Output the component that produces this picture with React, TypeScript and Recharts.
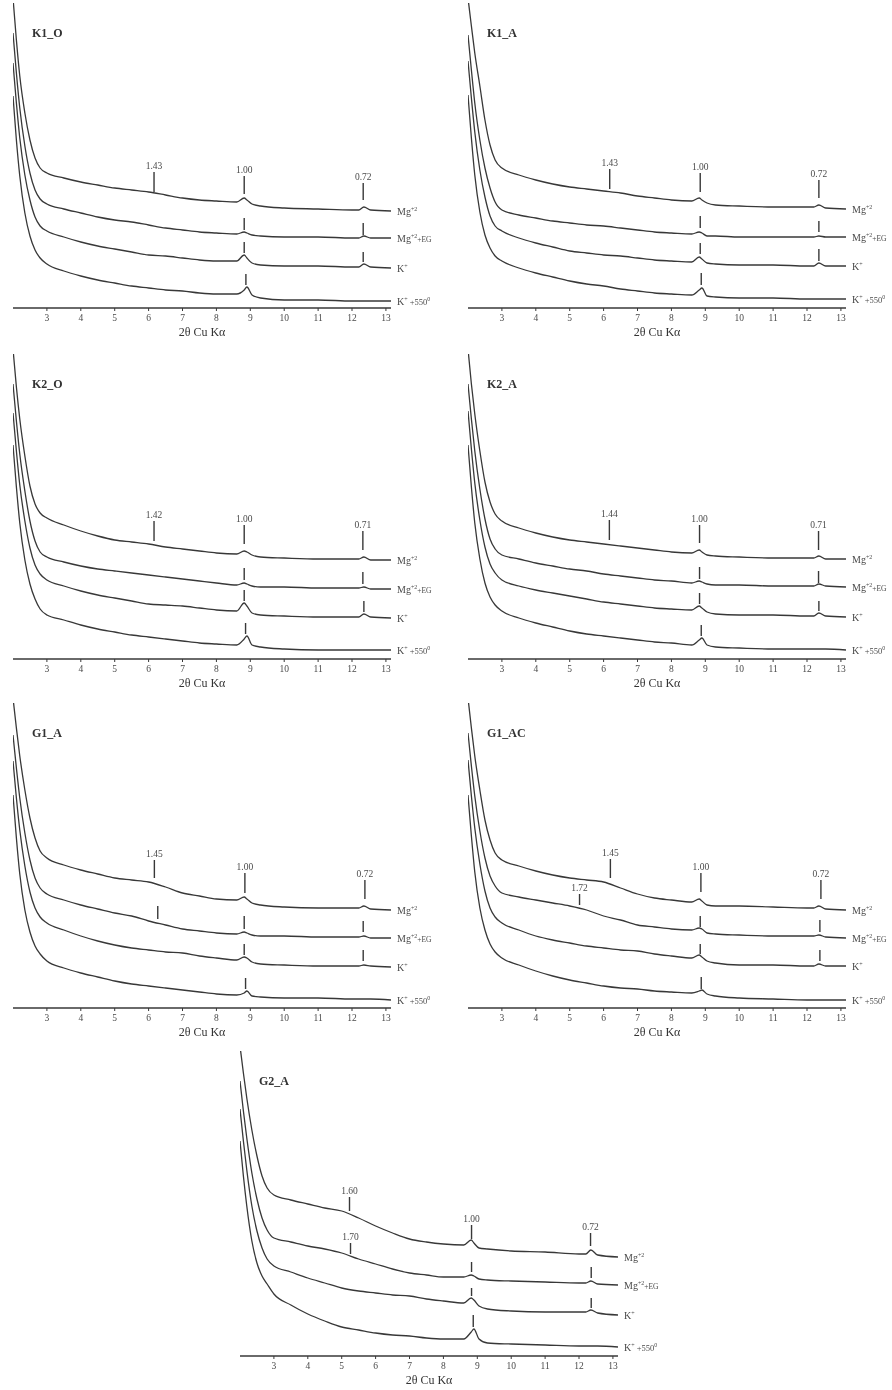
import { LineChart, Line, XAxis, YAxis, ReferenceLine } from 'recharts';

// 2θ sample positions shared by every pattern
const X = [2.0, 2.1, 2.2, 2.35, 2.5, 2.65, 2.8, 3.0, 3.5, 4, 4.5, 5, 5.5, 6, 6.5, 7, 7.5, 8, 8.6, 8.82, 8.9, 9.05, 9.3, 10, 11, 12, 12.2, 12.35, 12.55, 13.15];
const TICKS = [3, 4, 5, 6, 7, 8, 9, 10, 11, 12, 13];

// intensities (arbitrary units, stacked offsets included)
const k1oMg = [310, 268, 232, 195, 168, 150, 140, 135, 130, 126, 123, 120, 118, 116, 113, 110, 108, 107, 106, 110, 108, 104, 102, 100, 99, 98, 98, 101, 98, 97];
const k1oEg = [275, 235, 200, 162, 135, 118, 109, 104, 99, 95, 91, 88, 86, 83, 80, 78, 76, 75, 74, 76, 75, 73, 72, 71, 71, 70, 70, 72, 70, 70];
const k1oK = [245, 205, 170, 133, 108, 91, 82, 77, 71, 66, 62, 59, 56, 53, 52, 50, 48, 47, 47, 53, 50, 45, 43, 42, 42, 41, 41, 44, 41, 40];
const k1oK550 = [212, 168, 132, 95, 72, 58, 50, 44, 37, 32, 28, 25, 22, 20, 18, 17, 15, 14, 14, 18, 21, 13, 10, 8, 8, 7, 7, 7, 7, 7];

const k1aMg = [310, 282, 255, 222, 188, 163, 148, 140, 133, 128, 124, 121, 119, 117, 115, 112, 110, 108, 107, 110, 108, 105, 103, 102, 101, 101, 101, 103, 100, 99];
const k1aEg = [273, 238, 205, 168, 140, 120, 106, 98, 93, 90, 87, 85, 83, 82, 80, 78, 76, 75, 74, 76, 75, 72, 72, 71, 71, 71, 71, 72, 71, 71];
const k1aK = [247, 210, 176, 138, 111, 92, 82, 77, 70, 65, 61, 57, 55, 53, 52, 50, 48, 47, 46, 51, 49, 45, 44, 43, 43, 42, 42, 45, 42, 42];
const k1aK550 = [213, 170, 133, 96, 73, 60, 52, 47, 40, 35, 31, 27, 24, 22, 19, 17, 15, 14, 13, 18, 20, 12, 11, 10, 10, 9, 9, 9, 9, 9];

const k2oMg = [310, 272, 240, 203, 173, 155, 146, 141, 134, 128, 123, 119, 117, 115, 112, 110, 108, 106, 105, 108, 107, 104, 102, 101, 100, 100, 100, 102, 99, 99];
const k2oEg = [275, 238, 205, 168, 138, 118, 107, 102, 97, 93, 90, 88, 86, 84, 82, 80, 78, 76, 74, 76, 75, 73, 72, 72, 71, 71, 71, 72, 70, 70];
const k2oK = [246, 208, 174, 138, 111, 94, 85, 79, 73, 68, 64, 61, 58, 55, 54, 53, 51, 49, 48, 56, 53, 46, 44, 43, 42, 42, 42, 45, 42, 41];
const k2oK550 = [214, 172, 136, 99, 75, 60, 50, 44, 39, 34, 30, 27, 24, 22, 20, 18, 16, 15, 14, 20, 23, 14, 12, 10, 9, 9, 9, 9, 9, 9];

const k2aMg = [310, 275, 245, 208, 177, 157, 145, 138, 131, 126, 122, 119, 117, 115, 113, 111, 109, 107, 106, 109, 107, 104, 103, 102, 101, 101, 101, 103, 100, 100];
const k2aEg = [275, 240, 208, 170, 140, 120, 110, 104, 100, 96, 93, 90, 88, 85, 83, 81, 79, 78, 76, 78, 77, 75, 74, 74, 73, 73, 73, 75, 73, 72];
const k2aK = [248, 210, 176, 139, 112, 95, 86, 79, 73, 69, 66, 63, 60, 57, 55, 53, 51, 50, 49, 53, 51, 47, 45, 44, 44, 43, 43, 46, 43, 42];
const k2aK550 = [214, 172, 136, 100, 76, 62, 54, 48, 41, 36, 32, 28, 25, 23, 21, 19, 17, 16, 14, 19, 21, 14, 12, 11, 10, 10, 10, 10, 10, 9];

const g1aMg = [310, 280, 252, 218, 190, 170, 157, 150, 143, 138, 134, 130, 128, 126, 121, 115, 112, 109, 108, 111, 109, 105, 103, 101, 100, 100, 100, 102, 99, 98];
const g1aEg = [273, 240, 210, 175, 148, 130, 120, 114, 108, 103, 99, 95, 92, 87, 83, 79, 77, 75, 74, 76, 75, 73, 72, 72, 71, 71, 71, 72, 70, 70];
const g1aK = [247, 210, 178, 142, 116, 100, 91, 85, 78, 72, 67, 63, 60, 58, 56, 55, 52, 50, 48, 51, 50, 46, 44, 43, 42, 42, 42, 43, 42, 41];
const g1aK550 = [213, 170, 134, 98, 76, 62, 54, 47, 40, 35, 31, 27, 24, 22, 20, 18, 16, 14, 13, 15, 17, 12, 11, 10, 10, 9, 9, 9, 9, 8];

const g1acMg = [310, 280, 252, 218, 188, 168, 155, 148, 142, 137, 133, 130, 128, 126, 120, 114, 110, 108, 106, 109, 107, 103, 102, 102, 101, 100, 100, 102, 99, 98];
const g1acEg = [275, 242, 212, 177, 150, 132, 122, 115, 111, 108, 105, 102, 98, 92, 88, 83, 81, 79, 78, 80, 79, 75, 74, 73, 72, 72, 72, 73, 71, 70];
const g1acK = [248, 212, 180, 144, 117, 100, 91, 85, 78, 72, 68, 65, 62, 60, 58, 57, 54, 52, 50, 53, 51, 47, 45, 43, 43, 42, 42, 44, 42, 42];
const g1acK550 = [213, 172, 136, 100, 78, 64, 56, 50, 43, 37, 32, 28, 25, 22, 20, 19, 17, 16, 15, 17, 18, 14, 12, 10, 9, 8, 8, 8, 8, 8];

const g2aMg = [310, 283, 258, 226, 200, 180, 168, 161, 156, 152, 148, 145, 138, 130, 123, 117, 114, 112, 111, 116, 113, 108, 107, 105, 104, 102, 102, 106, 101, 99];
const g2aEg = [275, 245, 218, 183, 157, 138, 126, 118, 114, 110, 107, 103, 97, 92, 87, 83, 81, 79, 79, 81, 80, 77, 76, 75, 74, 73, 73, 75, 72, 71];
const g2aK = [247, 215, 186, 150, 125, 108, 97, 90, 84, 78, 73, 68, 65, 63, 61, 60, 57, 55, 53, 58, 56, 50, 47, 45, 44, 44, 44, 46, 43, 41];
const g2aK550 = [215, 180, 150, 115, 93, 80, 72, 62, 51, 42, 35, 29, 26, 23, 21, 20, 18, 17, 17, 24, 27, 17, 13, 12, 11, 10, 10, 10, 10, 9];

// peak markers: [2θ, bottom, top, d-spacing label]
const k1oMarks = [[6.16, 116, 136, '1.43'], [8.82, 114, 132, '1.00'], [12.33, 108, 125, '0.72'], [8.82, 78, 90], [12.33, 73, 85], [8.82, 55, 66], [12.33, 46, 56], [8.87, 23, 34]];
const k1aMarks = [[6.18, 119, 139, '1.43'], [8.85, 116, 135, '1.00'], [12.35, 110, 128, '0.72'], [8.85, 80, 92], [12.35, 76, 87], [8.85, 54, 65], [12.35, 47, 59], [8.88, 23, 35]];
const k2oMarks = [[6.16, 118, 138, '1.42'], [8.82, 115, 134, '1.00'], [12.32, 109, 128, '0.71'], [8.82, 79, 91], [12.32, 75, 87], [8.82, 58, 69], [12.35, 47, 58], [8.86, 25, 36]];
const k2aMarks = [[6.17, 119, 139, '1.44'], [8.83, 116, 134, '1.00'], [12.34, 109, 128, '0.71'], [8.83, 80, 92], [12.34, 76, 88], [8.83, 55, 66], [12.35, 48, 58], [8.88, 23, 34]];
const g1aMarks = [[6.17, 130, 148, '1.45'], [8.84, 115, 135, '1.00'], [12.38, 109, 128, '0.72'], [6.27, 89, 102], [8.82, 79, 92], [12.33, 76, 87], [8.82, 53, 64], [12.33, 47, 58], [8.86, 19, 30]];
const g1acMarks = [[6.2, 130, 149, '1.45'], [5.29, 103, 114, '1.72'], [8.87, 116, 135, '1.00'], [12.41, 109, 128, '0.72'], [8.85, 81, 92], [12.38, 76, 88], [8.85, 54, 64], [12.38, 47, 58], [8.88, 19, 31]];
const g2aMarks = [[5.23, 145, 159, '1.60'], [5.26, 102, 113, '1.70'], [8.83, 117, 131, '1.00'], [12.34, 110, 123, '0.72'], [8.83, 84, 94], [12.36, 78, 89], [8.83, 60, 68], [12.36, 48, 58], [8.88, 29, 41]];

const PANELS = [
 { title: 'K1_O', left: 13, top: 3, mg: k1oMg, eg: k1oEg, k: k1oK, k550: k1oK550, marks: k1oMarks },
 { title: 'K1_A', left: 468, top: 3, mg: k1aMg, eg: k1aEg, k: k1aK, k550: k1aK550, marks: k1aMarks },
 { title: 'K2_O', left: 13, top: 354, mg: k2oMg, eg: k2oEg, k: k2oK, k550: k2oK550, marks: k2oMarks },
 { title: 'K2_A', left: 468, top: 354, mg: k2aMg, eg: k2aEg, k: k2aK, k550: k2aK550, marks: k2aMarks },
 { title: 'G1_A', left: 13, top: 703, mg: g1aMg, eg: g1aEg, k: g1aK, k550: g1aK550, marks: g1aMarks },
 { title: 'G1_AC', left: 468, top: 703, mg: g1acMg, eg: g1acEg, k: g1acK, k550: g1acK550, marks: g1acMarks },
 { title: 'G2_A', left: 240, top: 1051, mg: g2aMg, eg: g2aEg, k: g2aK, k550: g2aK550, marks: g2aMarks },
];

const FONT = '"Liberation Serif", "DejaVu Serif", serif';
const INK = '#383838';
const TEXT = '#4a4a4a';

function EndText({ x, y, kind }: { x: number; y: number; kind: string }) {
 const common = { x: x + 6, y, dy: '0.35em', fontFamily: FONT, fill: TEXT, fontSize: 10 };
 if (kind === 'mg') {
 return <text {...common}>Mg<tspan fontSize={6} dy={-4}>+2</tspan></text>;
 }
 if (kind === 'eg') {
 return <text {...common}>Mg<tspan fontSize={6} dy={-4}>+2</tspan><tspan fontSize={7.5} dy={4}>+EG</tspan></text>;
 }
 if (kind === 'k') {
 return <text {...common}>K<tspan fontSize={6} dy={-4}>+</tspan></text>;
 }
 return (
 <text {...common}>
 K<tspan fontSize={6} dy={-4}>+</tspan><tspan fontSize={8.5} dy={4}> +550</tspan><tspan fontSize={6} dy={-4}>0</tspan>
 </text>
 );
}

const endLabel = (kind: string) => (props: any) =>
 props.index === X.length - 1 ? <EndText key={`end-${kind}`} x={props.x} y={props.y} kind={kind} /> : null;

function Panel({ p }: { p: (typeof PANELS)[number] }) {
 const data = X.map((x, i) => ({ x, mg: p.mg[i], eg: p.eg[i], k: p.k[i], k550: p.k550[i] }));
 const series = ['mg', 'eg', 'k', 'k550'];
 return (
 <>
 <div
 style={{
 position: 'absolute',
 left: p.left + 19,
 top: p.top + 23,
 fontFamily: FONT,
 fontWeight: 'bold',
 fontSize: 12,
 color: '#333',
 }}
 >
 {p.title}
 </div>
 <div style={{ position: 'absolute', left: p.left - 13, top: p.top }}>
 <LineChart width={446} height={338} data={data} margin={{ top: 0, right: 55, bottom: 5, left: 13 }}>
 <XAxis
 dataKey="x"
 type="number"
 domain={[2, 13.15]}
 ticks={TICKS}
 allowDataOverflow
 height={28}
 tickSize={3}
 tickMargin={3}
 axisLine={{ stroke: INK, strokeWidth: 1.3 }}
 tickLine={{ stroke: INK }}
 tick={{ fontSize: 9.5, fill: TEXT, fontFamily: FONT }}
 label={{ value: '2θ Cu Kα', position: 'insideBottom', offset: 0, fontSize: 12, fill: '#333', fontFamily: FONT }}
 />
 <YAxis type="number" domain={[0, 305]} allowDataOverflow hide />
 {series.map((s) => (
 <Line
 key={s}
 dataKey={s}
 type="monotone"
 stroke={INK}
 strokeWidth={1.3}
 dot={false}
 activeDot={false}
 isAnimationActive={false}
 label={endLabel(s)}
 />
 ))}
 {p.marks.map((m, i) => (
 <ReferenceLine
 key={i}
 segment={[{ x: m[0] as number, y: m[1] as number }, { x: m[0] as number, y: m[2] as number }]}
 stroke={INK}
 strokeWidth={1.4}
 ifOverflow="visible"
 label={
 m[3]
 ? { value: m[3] as string, position: 'top', offset: 3, fontSize: 9.5, fill: TEXT, fontFamily: FONT }
 : undefined
 }
 />
 ))}
 </LineChart>
 </div>
 </>
 );
}

export default function App() {
 return (
 <div
 style={{
 position: 'absolute',
 left: 0,
 top: 0,
 width: 892,
 height: 1390,
 overflow: 'hidden',
 background: '#fff',
 filter: 'grayscale(1)',
 }}
 >
 {PANELS.map((p) => (
 <Panel key={p.title} p={p} />
 ))}
 </div>
 );
}
